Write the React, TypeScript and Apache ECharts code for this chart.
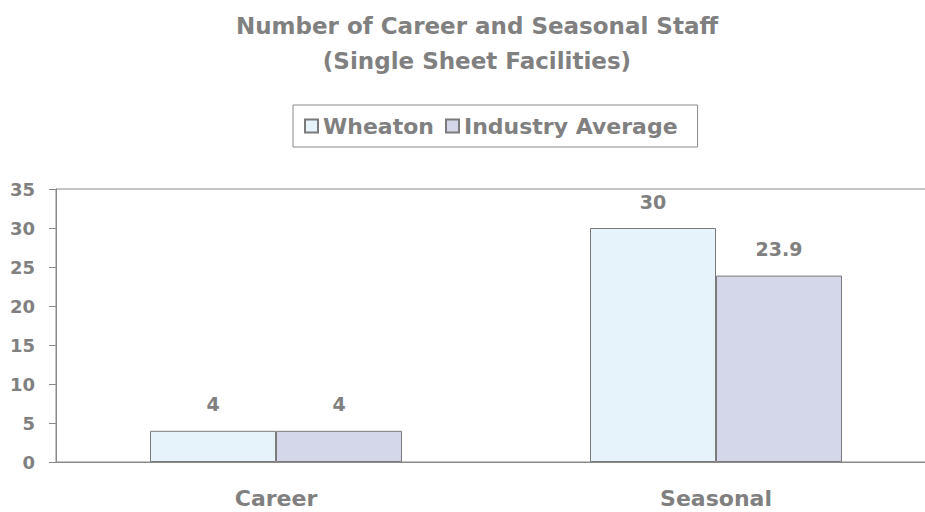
import React, { useEffect, useRef } from "react";
import * as echarts from "echarts";

const categories = ["Career", "Seasonal"];
const wheaton = [4, 30];
const industryAverage = [4, 23.9];
const seriesNames = ["Wheaton", "Industry Average"];
const titleLines = ["Number of Career and Seasonal Staff", "(Single Sheet Facilities)"];

const FONT = "DejaVu Sans";
const GRAY = "#808080";

export default function App() {
  const ref = useRef<HTMLDivElement>(null);
  useEffect(() => {
    if (!ref.current) return;
    const chart = echarts.init(ref.current, null, { renderer: "svg" });
    const label = {
      show: true,
      position: "top" as const,
      distance: 17,
      color: GRAY,
      fontFamily: FONT,
      fontWeight: "bold" as const,
      fontSize: 19,
    };
    chart.setOption({
      animation: false,
      backgroundColor: "#ffffff",
      title: {
        text: titleLines.join("\n"),
        left: 472,
        textAlign: "center",
        top: 3,
        textStyle: {
          color: GRAY,
          fontFamily: FONT,
          fontWeight: "bold",
          fontSize: 23,
          lineHeight: 35,
        },
      },
      legend: {
        left: 293,
        top: 105,
        padding: [10, 20, 10, 11],
        borderColor: "#8a8a8a",
        borderWidth: 1,
        itemWidth: 13,
        itemHeight: 13,
        itemGap: 11,
        icon: "rect",
        textStyle: {
          color: GRAY,
          fontFamily: FONT,
          fontWeight: "bold",
          fontSize: 22,
        },
        data: seriesNames,
      },
      grid: {
        left: 56,
        right: -11,
        top: 189,
        bottom: 50,
        outerBoundsMode: "none",
        containLabel: false,
        show: true,
        borderColor: "#8a8a8a",
        borderWidth: 1,
      },
      xAxis: {
        type: "category",
        data: categories,
        axisTick: { show: false },
        axisLine: { lineStyle: { color: "#8a8a8a", width: 1 } },
        axisLabel: {
          color: GRAY,
          fontFamily: FONT,
          fontWeight: "bold",
          fontSize: 22,
          margin: 25,
        },
      },
      yAxis: {
        type: "value",
        min: 0,
        max: 35,
        interval: 5,
        splitLine: { show: false },
        axisLine: { show: true, lineStyle: { color: "#8a8a8a", width: 1 } },
        axisTick: { show: true, length: 7, lineStyle: { color: "#8a8a8a" } },
        axisLabel: {
          color: GRAY,
          fontFamily: FONT,
          fontWeight: "bold",
          fontSize: 18,
          margin: 21,
        },
      },
      series: [
        {
          name: seriesNames[0],
          type: "bar",
          data: wheaton,
          barWidth: 126,
          barGap: "0%",
          itemStyle: { color: "#e6f3fa", borderColor: "#7a7a7a", borderWidth: 1 },
          label,
        },
        {
          name: seriesNames[1],
          type: "bar",
          data: industryAverage,
          barWidth: 126,
          barGap: "0%",
          itemStyle: { color: "#d4d6ea", borderColor: "#7a7a7a", borderWidth: 1 },
          label,
        },
      ],
    });
    return () => chart.dispose();
  }, []);
  return (
    <div
      ref={ref}
      style={{ position: "fixed", left: 0, top: 0, width: 925, height: 512 }}
    />
  );
}
